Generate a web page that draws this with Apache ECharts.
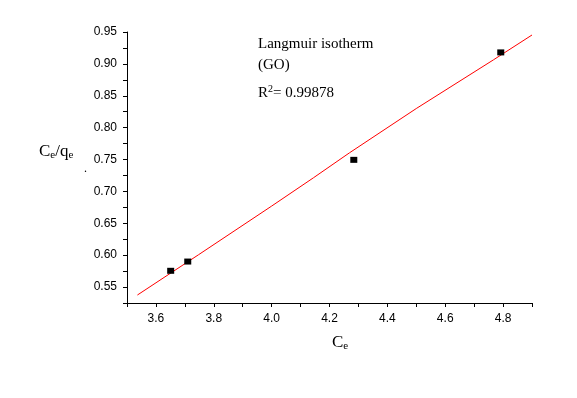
<!DOCTYPE html>
<html>
<head>
<meta charset="utf-8">
<script src="https://cdn.jsdelivr.net/npm/echarts@6/dist/echarts.min.js"></script>
<style>
  html, body { margin: 0; padding: 0; background: #fff; }
  #chart { width: 577px; height: 398px; }
</style>
</head>
<body>
<div id="chart"></div>
<script>
// measured points (Ce, Ce/qe)
const ceData = [3.651, 3.710, 4.284, 4.792];
const ratioData = [0.5755, 0.590, 0.7495, 0.918];

// fitted curve
const fitCe = [3.536, 3.747, 4.0, 4.145, 4.269, 4.5, 4.767, 4.9];
const fitRatio = [0.5375, 0.6006, 0.677, 0.7215, 0.7605, 0.830, 0.9064, 0.9453];

const r2 = "0.99878";

const myChart = echarts.init(document.getElementById("chart"));

const serif = "Liberation Serif";
const sans = "Liberation Sans";

myChart.setOption({
  backgroundColor: "#fff",
  animation: false,
  grid: { left: 127, right: 45, top: 32, bottom: 95 },
  xAxis: {
    type: "value",
    min: 3.5,
    max: 4.9,
    interval: 0.1,
    axisLine: { show: true, onZero: false, lineStyle: { color: "#000", width: 1 } },
    axisTick: { show: true, length: 4, lineStyle: { color: "#000" } },
    splitLine: { show: false },
    axisLabel: {
      color: "#000",
      fontFamily: sans,
      fontSize: 12,
      margin: 10,
      formatter: function (v) {
        const n = Math.round(v * 10);
        return n % 2 === 0 && n < 49 ? (n / 10).toFixed(1) : "";
      },
    },
  },
  yAxis: {
    type: "value",
    min: 0.525,
    max: 0.95,
    interval: 0.025,
    axisLine: { show: true, onZero: false, lineStyle: { color: "#000", width: 1 } },
    axisTick: { show: true, length: 4, lineStyle: { color: "#000" } },
    splitLine: { show: false },
    axisLabel: {
      color: "#000",
      fontFamily: sans,
      fontSize: 12,
      margin: 10,
      formatter: function (v) {
        const n = Math.round(v * 1000);
        return n % 50 === 0 ? (n / 1000).toFixed(2) : "";
      },
    },
  },
  series: [
    {
      name: "fit",
      type: "line",
      data: fitCe.map((x, i) => [x, fitRatio[i]]),
      showSymbol: false,
      smooth: false,
      lineStyle: { color: "#ff0000", width: 1 },
      z: 2,
    },
    {
      name: "data",
      type: "scatter",
      data: ceData.map((x, i) => [x, ratioData[i]]),
      symbol: "rect",
      symbolSize: [7, 6],
      itemStyle: { color: "#000", opacity: 1 },
      z: 3,
    },
  ],
  graphic: [
    {
      type: "text",
      left: 258,
      top: 34,
      style: {
        text: "Langmuir isotherm\n(GO)",
        font: "15px " + serif,
        fill: "#000",
        lineHeight: 21,
      },
    },
    {
      type: "text",
      left: 258,
      top: 84,
      style: {
        text: "{n|R}{sup|2}{n|= " + r2 + "}",
        fill: "#000",
        rich: {
          n: { fontFamily: serif, fontSize: 15, fill: "#000" },
          sup: { fontFamily: serif, fontSize: 10, fill: "#000", padding: [0, 0, 8, 0] },
        },
      },
    },
    {
      type: "text",
      left: 39,
      top: 143,
      style: {
        text: "{n|C}{sub|e}{n|/q}{sub|e}",
        fill: "#000",
        rich: {
          n: { fontFamily: serif, fontSize: 17, fill: "#000" },
          sub: { fontFamily: serif, fontSize: 11, fill: "#000", padding: [8, 0, 0, 0] },
        },
      },
    },
    {
      type: "text",
      left: 332,
      top: 334,
      style: {
        text: "{n|C}{sub|e}",
        fill: "#000",
        rich: {
          n: { fontFamily: serif, fontSize: 17, fill: "#000" },
          sub: { fontFamily: serif, fontSize: 11, fill: "#000", padding: [8, 0, 0, 0] },
        },
      },
    },
    {
      type: "text",
      left: 84,
      top: 163,
      style: { text: ".", font: "12px " + serif, fill: "#000" },
    },
  ],
});
</script>
</body>
</html>
